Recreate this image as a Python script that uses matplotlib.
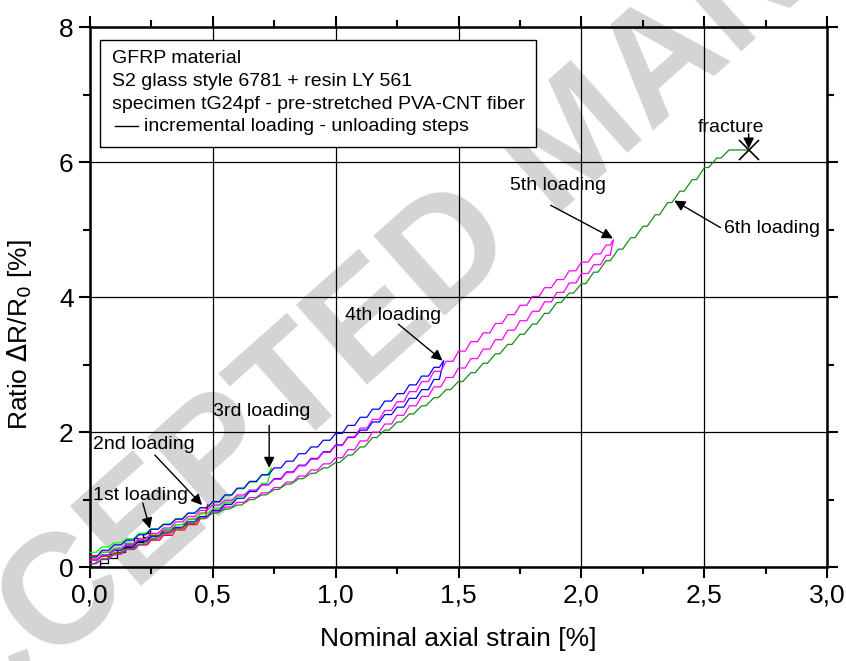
import numpy as np
import matplotlib
matplotlib.use('Agg')
import matplotlib.pyplot as plt
from matplotlib.ticker import MultipleLocator, FuncFormatter
from matplotlib.patches import Rectangle

plt.rcParams['font.family'] = ['Liberation Sans', 'DejaVu Sans']

# strain grid of the load steps (0.05 % increments)
steps = np.round(np.arange(0, 2.65, 0.05), 2)

# 1st loading (black)
x1 = [0.005, 0.04, 0.075, 0.11, 0.145, 0.18, 0.215]
y1_load = [0.0, 0.12, 0.2, 0.28, 0.36, 0.43, 0.5]
y1_unload = [0.0, 0.06, 0.14, 0.22, 0.3, 0.37, 0.45]
peak1 = (0.245, 0.57)

# 2nd loading (red)
y2_load = [0.17, 0.22, 0.27, 0.33, 0.4, 0.47, 0.55, 0.63, 0.71, 0.8]
y2_unload = [0.12, 0.16, 0.21, 0.27, 0.33, 0.4, 0.47, 0.55, 0.63, 0.72]
peak2 = (0.48, 0.93)

# 3rd loading (light green)
y3_load = [0.22, 0.3, 0.36, 0.42, 0.5, 0.57, 0.64, 0.72, 0.8, 0.88, 0.96, 1.06, 1.16, 1.26, 1.36]
y3_unload = [0.15, 0.22, 0.28, 0.35, 0.42, 0.49, 0.56, 0.63, 0.71, 0.79, 0.87, 0.96, 1.05, 1.14, 1.24]
peak3 = (0.74, 1.47)

# 4th loading (blue)
y4_load = [0.15, 0.25, 0.33, 0.4, 0.48, 0.56, 0.63, 0.71, 0.8, 0.88, 0.97, 1.07, 1.17, 1.27, 1.37,
           1.47, 1.57, 1.68, 1.78, 1.88, 1.98, 2.1, 2.22, 2.34, 2.46, 2.57, 2.7, 2.83, 2.96]
y4_unload = [0.1, 0.18, 0.25, 0.31, 0.38, 0.45, 0.52, 0.59, 0.67, 0.75, 0.84, 0.93, 1.02, 1.12, 1.22,
             1.31, 1.41, 1.51, 1.61, 1.71, 1.81, 1.92, 2.03, 2.15, 2.26, 2.37, 2.5, 2.63, 2.78]
peak4 = (1.44, 3.06)

# 5th loading (magenta)
y5_load = [0.1, 0.18, 0.26, 0.34, 0.42, 0.5, 0.58, 0.67, 0.75, 0.84, 0.92, 0.99, 1.07, 1.14, 1.22,
           1.3, 1.4, 1.5, 1.6, 1.7, 1.8, 1.93, 2.06, 2.19, 2.32, 2.45, 2.6, 2.75, 2.9, 3.05,
           3.2, 3.34, 3.47, 3.61, 3.74, 3.88, 4.01, 4.14, 4.26, 4.39, 4.52, 4.64, 4.77]
y5_unload = [0.05, 0.12, 0.19, 0.26, 0.33, 0.41, 0.49, 0.57, 0.65, 0.73, 0.82, 0.89, 0.96, 1.03, 1.1,
             1.18, 1.26, 1.35, 1.44, 1.53, 1.62, 1.74, 1.87, 2.0, 2.12, 2.25, 2.39, 2.53, 2.67, 2.81,
             2.95, 3.09, 3.23, 3.37, 3.51, 3.65, 3.79, 3.93, 4.07, 4.21, 4.35, 4.48, 4.62]
peak5 = (2.13, 4.85)

# 6th loading (dark green) up to fracture
y6_load = [0.05, 0.12, 0.2, 0.27, 0.34, 0.42, 0.5, 0.57, 0.64, 0.72, 0.8, 0.86, 0.92, 1.0, 1.07,
           1.15, 1.23, 1.31, 1.39, 1.47, 1.55, 1.66, 1.78, 1.92, 2.03, 2.15, 2.27, 2.39, 2.51, 2.63,
           2.75, 2.88, 3.02, 3.16, 3.3, 3.45, 3.6, 3.76, 3.92, 4.06, 4.2, 4.37, 4.54, 4.71, 4.88,
           5.05, 5.22, 5.4, 5.57, 5.74, 5.92, 6.06, 6.18]
fracture = (2.68, 6.18)

box_lines = ["GFRP material", "S2 glass style 6781 + resin LY 561",
             "specimen tG24pf - pre-stretched PVA-CNT fiber"]
legend_text = "incremental loading - unloading steps"


def zigzag(xs, ys, end, hold):
    # hold step (horizontal) followed by a ramp to the next step
    xs = list(xs) + [end[0]]
    ys = list(ys) + [end[1]]
    px, py = [], []
    for i in range(len(xs) - 1):
        px += [xs[i], xs[i] + hold * (xs[i + 1] - xs[i])]
        py += [ys[i], ys[i]]
    px.append(xs[-1])
    py.append(ys[-1])
    return px, py


def cycle(xs, y_load, y_unload, peak, hold):
    ax_, ay_ = zigzag(xs, y_load, peak, hold)
    bx_, by_ = zigzag(xs, y_unload, peak, hold)
    return ax_ + bx_[::-1], ay_ + by_[::-1]


fig = plt.figure(figsize=(8.46, 6.61), dpi=100)
ax = fig.add_axes([0.106, 0.142, 0.872, 0.817])
ax.set_facecolor('none')

fig.text(0.683, 0.784, 'ACCEPTED MANUSCRIPT', rotation=41.7, rotation_mode='anchor',
         ha='center', va='center', fontsize=112, fontweight='bold', color='#d4d4d4', zorder=-1)

lw = 0.9
cx, cy = cycle(x1, y1_load, y1_unload, peak1, 1.0)
ax.plot(cx, cy, color='black', lw=lw, zorder=3)
cx, cy = cycle(steps[:len(y2_load)], y2_load, y2_unload, peak2, 0.7)
ax.plot(cx, cy, color='#ff0000', lw=lw, zorder=3)
cx, cy = cycle(steps[:len(y3_load)], y3_load, y3_unload, peak3, 0.55)
ax.plot(cx, cy, color='#00ff00', lw=lw, zorder=3)
cx, cy = cycle(steps[:len(y4_load)], y4_load, y4_unload, peak4, 0.55)
ax.plot(cx, cy, color='#0000ff', lw=lw, zorder=3)
cx, cy = cycle(steps[:len(y5_load)], y5_load, y5_unload, peak5, 0.55)
ax.plot(cx, cy, color='#ff00ff', lw=lw, zorder=3)
cx, cy = zigzag(steps[:len(y6_load)], y6_load, fracture, 0.35)
ax.plot(cx, cy, color='#1a8c1a', lw=lw, zorder=3)
ax.plot([fracture[0]], [fracture[1]], marker='x', color='black', markersize=14, mew=1.2, zorder=4)

# annotations
arr = dict(arrowstyle='-|>', color='black', lw=1.0, mutation_scale=16, shrinkA=0, shrinkB=0)
fs = 14
ax.text(0.012, 1.06, '1st loading', fontsize=fs, va='center', ha='left')
ax.annotate('', xy=(0.245, 0.57), xytext=(0.216, 0.95), arrowprops=arr)
ax.text(0.012, 1.82, '2nd loading', fontsize=fs, va='center', ha='left')
ax.annotate('', xy=(0.457, 0.92), xytext=(0.265, 1.66), arrowprops=arr)
ax.text(0.5, 2.31, '3rd loading', fontsize=fs, va='center', ha='left')
ax.annotate('', xy=(0.73, 1.47), xytext=(0.73, 2.1), arrowprops=arr)
ax.text(1.04, 3.73, '4th loading', fontsize=fs, va='center', ha='left')
ax.annotate('', xy=(1.435, 3.06), xytext=(1.255, 3.6), arrowprops=arr)
ax.text(1.71, 5.65, '5th loading', fontsize=fs, va='center', ha='left')
ax.annotate('', xy=(2.128, 4.87), xytext=(1.875, 5.36), arrowprops=arr)
ax.text(2.58, 5.01, '6th loading', fontsize=fs, va='center', ha='left')
ax.annotate('', xy=(2.377, 5.43), xytext=(2.565, 5.03), arrowprops=arr)
ax.text(2.61, 6.52, 'fracture', fontsize=fs, va='center', ha='center')
ax.annotate('', xy=(2.68, 6.2), xytext=(2.68, 6.42), arrowprops=arr)

# info box
ax.add_patch(Rectangle((0.0136, 0.778), 0.591, 0.198, transform=ax.transAxes,
                       facecolor='white', edgecolor='black', lw=1.0, zorder=6))
for i, t in enumerate(box_lines):
    ax.text(0.0299, 0.941 - i * 0.042, t, transform=ax.transAxes, fontsize=fs,
            va='center', ha='left', zorder=7)
ax.plot([0.034, 0.066], [0.816, 0.816], transform=ax.transAxes, color='black', lw=1.0, zorder=7)
ax.text(0.0735, 0.816, legend_text, transform=ax.transAxes, fontsize=fs,
        va='center', ha='left', zorder=7)

ax.set_xlim(0, 3.0)
ax.set_ylim(0, 8)
ax.xaxis.set_major_locator(MultipleLocator(0.5))
ax.xaxis.set_minor_locator(MultipleLocator(0.25))
ax.yaxis.set_major_locator(MultipleLocator(2))
ax.yaxis.set_minor_locator(MultipleLocator(1))
ax.xaxis.set_major_formatter(FuncFormatter(lambda v, p: ('%.1f' % v).replace('.', ',')))
ax.yaxis.set_major_formatter(FuncFormatter(lambda v, p: '%d' % v))
ax.tick_params(which='both', direction='out', top=True, right=True, width=1.5, labelsize=19)
ax.tick_params(which='major', length=8)
ax.tick_params(which='minor', length=5)
ax.grid(True, which='major', color='black', lw=0.9)
ax.set_axisbelow(True)
for s in ax.spines.values():
    s.set_linewidth(1.8)

ax.set_xlabel('Nominal axial strain [%]', fontsize=19, labelpad=14)
ax.set_ylabel(r'Ratio $\Delta$R/R$_0$ [%]', fontsize=19)
ax.yaxis.set_label_coords(-0.075, 0.43)

plt.savefig('out.png', dpi=100)
plt.close()
